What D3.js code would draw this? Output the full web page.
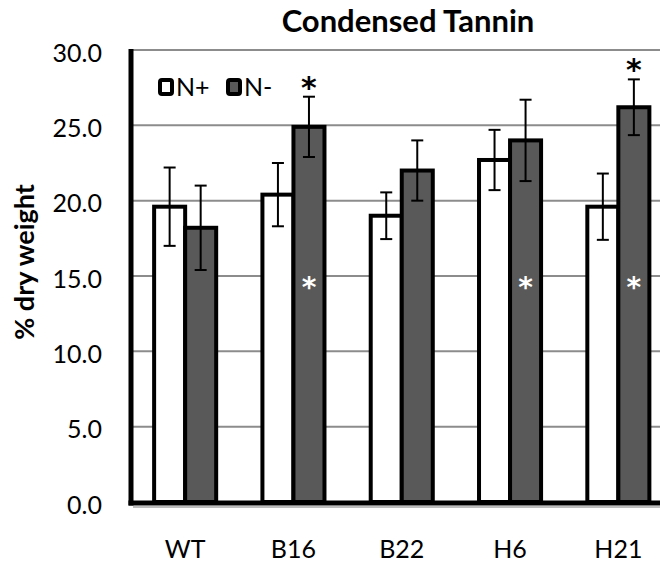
<!DOCTYPE html>
<html>
<head>
<meta charset="utf-8">
<script src="https://cdn.jsdelivr.net/npm/d3@7"></script>
<style>
  html, body { margin: 0; padding: 0; background: #fff; }
  svg { display: block; font-family: Lato, "Open Sans", sans-serif; }
</style>
</head>
<body>
<svg id="chart" width="660" height="567"></svg>
<script>
// ---- data ----
const categories = ["WT", "B16", "B22", "H6", "H21"];
const seriesNames = ["N+", "N-"];
const nPlus      = [19.6, 20.4, 19.0, 22.7, 19.6];
const nMinus     = [18.2, 24.9, 22.0, 24.0, 26.2];
const nPlusErr   = [2.6, 2.1, 1.55, 2.0, 2.2];
const nMinusErr  = [2.8, 2.0, 2.0, 2.7, 1.85];
const yTicks     = [0, 5, 10, 15, 20, 25, 30];
const blackStars = ["B16", "H21"];   // above N- error bar
const whiteStars = ["B16", "H6", "H21"]; // inside N- bar
const whiteStarLevel = 14.6;
const title = "Condensed Tannin";
const yTitle = "% dry weight";

const rows = categories.map((c, i) => ({
  cat: c,
  vals: [
    { s: "N+", v: nPlus[i], e: nPlusErr[i] },
    { s: "N-", v: nMinus[i], e: nMinusErr[i] }
  ]
}));

const svg = d3.select("#chart");
const W = 660;
const axisX = 131, plotTop = 50, plotBottom = 502;

const y = d3.scaleLinear().domain([0, 30]).range([plotBottom, plotTop]);
const x = d3.scaleBand().domain(categories).range([axisX, 672.5])
  .paddingInner(0.427).paddingOuter(0.2135);
const xs = d3.scaleBand().domain(seriesNames).range([0, x.bandwidth()]);
const fills = { "N+": "#ffffff", "N-": "#595959" };

// gridlines
svg.append("g").selectAll("line").data(yTicks.filter(t => t > 0)).join("line")
  .attr("x1", axisX).attr("x2", W)
  .attr("y1", d => y(d)).attr("y2", d => y(d))
  .attr("stroke", "#8c8c8c").attr("stroke-width", 2);

// y tick labels via axis
const yAxis = d3.axisLeft(y).tickValues(yTicks).tickFormat(d3.format(".1f")).tickSize(0).tickPadding(0);
const gy = svg.append("g").attr("transform", `translate(102,0)`).call(yAxis);
gy.select(".domain").remove();
gy.selectAll("text").attr("font-size", 25).attr("fill", "#000")
  .attr("font-family", "Lato, sans-serif").attr("dy", "0.45em");

// bars
const groups = svg.append("g").selectAll("g").data(rows).join("g")
  .attr("transform", d => `translate(${x(d.cat)},0)`);
groups.selectAll("rect").data(d => d.vals).join("rect")
  .attr("x", d => xs(d.s)).attr("width", xs.bandwidth())
  .attr("y", d => y(d.v)).attr("height", d => y(0) - y(d.v))
  .attr("fill", d => fills[d.s]).attr("stroke", "#000").attr("stroke-width", 4)
  .attr("stroke-linejoin", "miter");

// error bars
const eb = groups.selectAll("g.err").data(d => d.vals).join("g").attr("class", "err");
const cx = d => xs(d.s) + xs.bandwidth() / 2;
eb.append("line").attr("x1", cx).attr("x2", cx)
  .attr("y1", d => y(d.v + d.e)).attr("y2", d => y(d.v - d.e))
  .attr("stroke", "#000").attr("stroke-width", 2);
eb.append("line").attr("x1", d => cx(d) - 6).attr("x2", d => cx(d) + 6)
  .attr("y1", d => y(d.v + d.e)).attr("y2", d => y(d.v + d.e))
  .attr("stroke", "#000").attr("stroke-width", 2);
eb.append("line").attr("x1", d => cx(d) - 6).attr("x2", d => cx(d) + 6)
  .attr("y1", d => y(d.v - d.e)).attr("y2", d => y(d.v - d.e))
  .attr("stroke", "#000").attr("stroke-width", 2);

// axes lines
svg.append("line").attr("x1", axisX + 2).attr("x2", W).attr("y1", y(0) + 5).attr("y2", y(0) + 5)
  .attr("stroke", "#bdbdbd").attr("stroke-width", 2);
svg.append("line").attr("x1", axisX).attr("x2", axisX).attr("y1", y(30) - 1).attr("y2", y(0) + 3.5)
  .attr("stroke", "#000").attr("stroke-width", 5);
svg.append("line").attr("x1", axisX - 2.5).attr("x2", W).attr("y1", y(0) + 1).attr("y2", y(0) + 1)
  .attr("stroke", "#000").attr("stroke-width", 5);

// asterisks
const iOf = c => categories.indexOf(c);
const nmX = c => x(c) + xs("N-") + xs.bandwidth() / 2;
svg.append("g").selectAll("text").data(blackStars).join("text")
  .attr("x", c => nmX(c))
  .attr("y", c => y(nMinus[iOf(c)] + nMinusErr[iOf(c)]) + 1)
  .attr("text-anchor", "middle").attr("font-size", 30).attr("font-weight", "bold")
  .attr("font-family", "'DejaVu Sans', sans-serif")
  .attr("fill", "#000").text("*");
svg.append("g").selectAll("text").data(whiteStars).join("text")
  .attr("x", c => nmX(c))
  .attr("y", y(whiteStarLevel) + 15)
  .attr("text-anchor", "middle").attr("font-size", 28).attr("font-weight", "bold")
  .attr("font-family", "'DejaVu Sans', sans-serif")
  .attr("fill", "#fff").text("*");

// x labels
svg.append("g").selectAll("text").data(categories).join("text")
  .attr("x", c => x(c) + x.bandwidth() / 2).attr("y", 558)
  .attr("text-anchor", "middle").attr("font-size", 25).attr("fill", "#000").text(c => c);

// title
svg.append("text").attr("x", 408).attr("y", 32).attr("text-anchor", "middle")
  .attr("font-size", 31).attr("font-weight", "bold").attr("fill", "#000").text(title);

// y title
svg.append("text").attr("transform", "translate(34,262) rotate(-90)")
  .attr("text-anchor", "middle").attr("font-size", 27).attr("font-weight", "bold")
  .attr("fill", "#000").text(yTitle);

// legend
const leg = svg.append("g").selectAll("g").data(seriesNames).join("g")
  .attr("transform", (d, i) => `translate(160,80) translate(${i * 68},0)`);
leg.append("rect").attr("width", 12).attr("height", 14).attr("rx", 2)
  .attr("fill", d => fills[d]).attr("stroke", "#000").attr("stroke-width", 4);
leg.append("text").attr("x", 16).attr("y", 16).attr("font-size", 25).attr("fill", "#000").text(d => d);
</script>
</body>
</html>
